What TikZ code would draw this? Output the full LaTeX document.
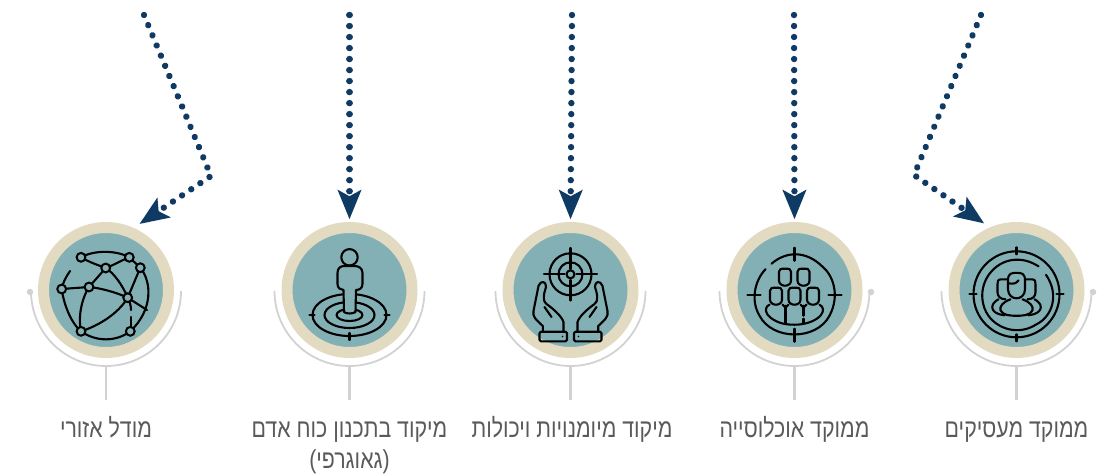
\documentclass[tikz,border=0pt]{standalone}
\usepackage{fontspec}
\usetikzlibrary{arrows.meta}
\TeXXeTstate=1
\newfontfamily\hebfont[Script=Hebrew,FakeStretch=0.82]{Liberation Sans}
\definecolor{navy}{HTML}{0F3A63}
\definecolor{sand}{HTML}{E3DBC1}
\definecolor{teal}{HTML}{83B0B4}
\definecolor{railgray}{HTML}{D2D2D2}
\definecolor{labelgray}{HTML}{5A5A5A}
\tikzset{
  ring/.style={circle,fill=teal,draw=sand,line width=11pt,minimum size=125pt,inner sep=0pt,outer sep=5.5pt},
  flow/.style={navy,line width=6.4pt,line cap=round,dash pattern=on 0.01pt off 11pt,-{Stealth[length=29pt,width=23pt,inset=6pt,line cap=butt]}},
  rail/.style={railgray,line width=1.8pt},
  stem/.style={railgray,line width=2.8pt},
  raildot/.style={circle,fill=railgray,minimum size=6.5pt,inner sep=0pt},
  caption/.style={anchor=base,text=labelgray,font=\hebfont\fontsize{26}{26}\selectfont,inner sep=0pt},
  ink/.style={black,line width=2.1pt,line cap=round,line join=round},
  hub/.style={black,fill=teal,line width=2pt},
}
\newcommand{\stationmark}[2]{%
  \node[ring] (c#1) at (#2,290) {};
  \coordinate (r#1) at (#2+75,291);
  \coordinate (b#1) at (#2,366);
  \coordinate (s#1) at (#2,400);
  \draw[rail] (r#1) arc[start angle=0,end angle=180,radius=75];
  \draw[stem] (b#1) -- (s#1);
}
\newcommand{\headshape}[4]{% cx cy rx ry
  \draw[ink] (#1-#3,#2-#4+3) .. controls (#1-#3,#2-#4) and (#1-#3+2,#2-#4) .. (#1,#2-#4)
    .. controls (#1+#3-2,#2-#4) and (#1+#3,#2-#4) .. (#1+#3,#2-#4+3)
    -- (#1+#3,#2+#4-5) .. controls (#1+#3,#2+#4-1) and (#1+2,#2+#4) .. (#1,#2+#4)
    .. controls (#1-2,#2+#4) and (#1-#3,#2+#4-1) .. (#1-#3,#2+#4-5) -- cycle;
}
\begin{document}
\begin{tikzpicture}[x=1pt,y=-1pt]
\useasboundingbox (0,0) rectangle (1100,475);

\stationmark{1}{106}
\stationmark{2}{349.5}
\stationmark{3}{570.5}
\stationmark{4}{794.5}
\stationmark{5}{1016.5}

\node[raildot] (d1) at (30,292) {};
\node[raildot] (d4) at (871,292) {};
\node[raildot] (d5) at (1093,292) {};

% connectors
\coordinate (t1) at (144,15); \coordinate (k1) at (211,176);
\coordinate (t2) at (349.5,15);
\coordinate (t3) at (572,15);
\coordinate (t4) at (794,15);
\coordinate (t5) at (981,15); \coordinate (k5) at (914,175);
\draw[flow,shorten >=7pt] (t1) -- (k1) -- (c1.66);
\draw[flow,shorten >=2.7pt] (t2) -- (c2.north);
\draw[flow,shorten >=2.7pt] (t3) -- (c3.north);
\draw[flow,shorten >=2.7pt] (t4) -- (c4.north);
\draw[flow,shorten >=7pt] (t5) -- (k5) -- (c5.113);

% captions
\node[caption] (l1) at (106,437) {\beginR מודל אזורי\endR};
\node[caption] (l2) at (349.5,437) {\beginR מיקוד בתכנון כוח אדם\endR};
\node[caption] (l2b) at (349.5,468.5) {\beginR (גאוגרפי)\endR};
\node[caption] (l3) at (572,437) {\beginR מיקוד מיומנויות ויכולות\endR};
\node[caption] (l4) at (794.5,437) {\beginR ממוקד אוכלוסייה\endR};
\node[caption] (l5) at (1016.5,437) {\beginR ממוקד מעסיקים\endR};

% icon 1: globe
\begin{scope}[shift={(106,290)}]
  \coordinate (A) at (-25,-32.7); \coordinate (B) at (23.3,-32.7);
  \coordinate (C) at (-0.3,-22); \coordinate (D) at (34.3,-22.3);
  \coordinate (E) at (-44.3,-1); \coordinate (F) at (-17,-3);
  \coordinate (G) at (21.7,7.7); \coordinate (H) at (-25,41.3);
  \coordinate (I) at (24.3,41.3);
  \draw[ink] (A) .. controls (-12,-40) and (10,-40) .. (B) -- (D)
     .. controls (46,-8) and (47,20) .. (I)
     .. controls (10,52) and (-10,52) .. (H)
     .. controls (-34,34) and (-42,16) .. (E);
  \draw[ink] (E) .. controls (-43,-8) and (-40,-13) .. (-36,-19);
  \draw[ink] (A) .. controls (-15,-27) and (-8,-25) .. (C)
     .. controls (8,-25) and (14,-29) .. (B);
  \draw[ink] (C) -- (F) -- (E);
  \draw[ink] (C) .. controls (8,-17) and (17,-4) .. (G);
  \draw[ink] (F) .. controls (-5,-2) and (12,3) .. (G);
  \draw[ink] (F) .. controls (-25,10) and (-28,28) .. (H);
  \draw[ink] (H) .. controls (-8,36) and (12,24) .. (G);
  \draw[ink] (D) -- (G) -- (41,20);
  \draw[ink] (G) .. controls (24,12) and (25,16) .. (25,20);
  \draw[ink] (25,27) -- (25,41);
  \foreach \p in {A,B,C,D,E,F,G,H,I} \draw[hub] (\p) circle[radius=4.4];
\end{scope}

% icon 2: person on target
\begin{scope}[shift={(349.5,290)}]
  \foreach \rx/\ry in {37/21,25/13,13/6} \draw[ink] (0,25) ellipse[x radius=\rx,y radius=\ry];
  \draw[ink] (-40,25) -- (-35,25) (35,25) -- (40,25) (0,43) -- (0,50);
  \draw[ink,fill=teal] (-5.5,22) -- (-6,0) .. controls (-9,0) and (-12,-2) .. (-12,-6)
     -- (-12,-17) .. controls (-12,-22) and (-9,-24) .. (-5,-24) -- (5,-24)
     .. controls (9,-24) and (13,-22) .. (13,-17) -- (13,-6)
     .. controls (13,-2) and (10,0) .. (6.5,0) -- (6,22)
     .. controls (3,24) and (-3,24) .. (-5.5,22);
  \draw[ink] (0,-32.7) circle[radius=8.2];
\end{scope}

% icon 3: hands and target
\begin{scope}[shift={(570.5,290)}]
  \foreach \r in {21,12,4} \draw[ink] (0,-15.7) circle[radius=\r];
  \draw[ink] (-26.5,-15.7) -- (-6,-15.7) (6,-15.7) -- (26.5,-15.7)
             (0,-42) -- (0,-21) (0,-10) -- (0,10.5);
  \foreach \s in {1,-1} {
    \begin{scope}[xscale=\s]
      \draw[ink,rounded corners=1.5pt] (-31,41.7) rectangle (-3.5,51.3);
      \fill[black] (-8,46.5) circle[radius=0.9];
      \draw[ink] (-7,41.7) -- (-7,32) .. controls (-9,26) and (-17,19) .. (-24,14)
         .. controls (-28,12) and (-27,4) .. (-24.5,-3)
         .. controls (-24,-9) and (-30,-10) .. (-32,-4)
         -- (-37,21) .. controls (-38,27) and (-35,29) .. (-27.7,36) -- (-27.7,41.7);
      \draw[ink] (-26,17) -- (-19,27);
    \end{scope}
  }
\end{scope}

% icon 4: crowd in crosshair
\begin{scope}[shift={(794.5,294.7)}]
  \draw[ink] (-29,-25.5) .. controls (-40,-14) and (-44,6) .. (-35,21)
      .. controls (-22,46) and (22,46) .. (35,21)
      .. controls (46,0) and (38,-20) .. (28,-28)
      .. controls (12,-44) and (-8,-44) .. (-23,-31);
  \foreach \a/\b/\c/\d in {-47/0/-34/0,34/0/47/0,0/-47/0/-34,0/34/0/47}
    \draw[ink] (\a,\b) -- (\c,\d);
  \headshape{-9.5}{-17.5}{6}{8.5}
  \headshape{9}{-17.5}{6}{8.5}
  \headshape{-18.5}{1.5}{6}{8.5}
  \headshape{0}{1.5}{6}{8.5}
  \headshape{18.5}{1.5}{6}{8.5}
  \draw[ink] (-25,10) .. controls (-31,13) and (-29,19) .. (-24,23)
      .. controls (-16,29) and (-8,30) .. (0,30)
      .. controls (10,30) and (20,27) .. (26,21)
      .. controls (30,16) and (29,12) .. (25,10);
  \draw[ink] (-9,11) -- (-9,28) (9,11) -- (9,21) (9,24) -- (9,28);
  \draw[ink] (-12,10) -- (-9,13) -- (-6,10) (6,10) -- (9,13) -- (12,10);
\end{scope}

% icon 5: employers in target
\begin{scope}[shift={(1016.5,294.3)}]
  \draw[ink] (0,0) circle[radius=43];
  \draw[ink] (29.5,-19.5) .. controls (43,0) and (36,22) .. (20,30)
      .. controls (0,43) and (-25,33) .. (-32,14)
      .. controls (-40,-8) and (-26,-30) .. (-6,-34)
      .. controls (5,-36) and (14,-33) .. (22,-28);
  \foreach \a/\b/\c/\d in {-47/0/-40/0,40/0/47/0,0/-47/0/-40,0/40/0/47}
    \draw[ink] (\a,\b) -- (\c,\d);
  % back persons
  \draw[ink] (-9,-15) -- (-15,-15) .. controls (-19,-15) and (-19,-13) .. (-19,-10)
      -- (-19,-2) .. controls (-19,2) and (-16,5) .. (-11,5);
  \draw[ink] (9,-15) -- (15,-15) .. controls (19,-15) and (19,-13) .. (19,-10)
      -- (19,-2) .. controls (19,2) and (16,5) .. (11,5);
  \draw[ink] (-18,5) .. controls (-26,9) and (-27,17) .. (-17,20) -- (-12,21);
  \draw[ink] (18,5) .. controls (26,9) and (27,17) .. (17,20) -- (12,21);
  % front person
  \draw[ink] (-8.5,-14) .. controls (-8.5,-21) and (-5,-21.5) .. (0,-21.5)
      .. controls (5,-21.5) and (8.5,-21) .. (8.5,-14) -- (8.5,-5)
      .. controls (8.5,1) and (4,4) .. (0,4)
      .. controls (-4,4) and (-8.5,1) .. (-8.5,-5) -- cycle;
  \draw[ink] (-8,-11) .. controls (-3,-10) and (0,-11) .. (2,-14);
  \draw[ink] (-6,5) .. controls (-14,8) and (-17,12) .. (-16,16)
      .. controls (-14,21) and (-6,21.5) .. (0,21.5)
      .. controls (6,21.5) and (14,21) .. (16,16)
      .. controls (17,12) and (14,8) .. (6,5);
\end{scope}
\end{tikzpicture}
\end{document}
